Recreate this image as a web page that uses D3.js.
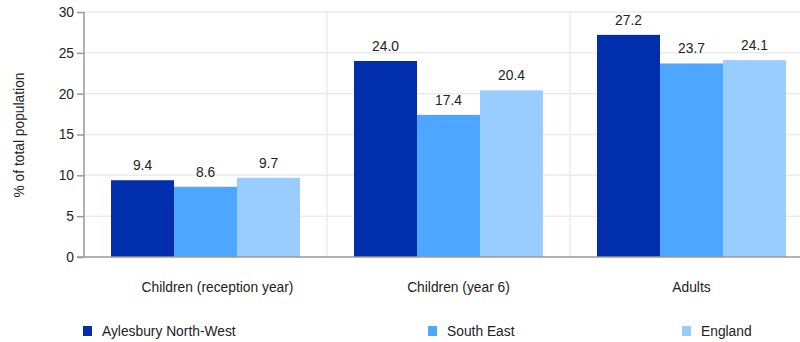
<!DOCTYPE html>
<html><head><meta charset="utf-8">
<script src="https://cdn.jsdelivr.net/npm/d3@7"></script>
<style>body{margin:0;background:#fff;}svg{display:block;font-family:"Liberation Sans",Arial,sans-serif;}</style>
</head><body><svg id="c" width="800" height="342"></svg>
<script>
const categories = ["Children (reception year)", "Children (year 6)", "Adults"];
const seriesNames = ["Aylesbury North-West", "South East", "England"];
const aylesbury = [9.4, 24.0, 27.2];
const southEast = [8.6, 17.4, 23.7];
const england = [9.7, 20.4, 24.1];
const yTicks = [0, 5, 10, 15, 20, 25, 30];
const colors = ["#002EAD", "#4DA6FF", "#99CCFF"];
const series = [aylesbury, southEast, england];

(function () {
const svg = d3.select("#c");
const mLeft = 84, mTop = 12, mBottom = 257, mRight = 813;
const fs = 13.8;
const x = d3.scaleBand().domain(categories).range([mLeft, mRight]).paddingInner(0).paddingOuter(0);
const x1 = d3.scaleBand().domain(seriesNames).range([0, 189]);
const y = d3.scaleLinear().domain([0, 30]).range([mBottom, mTop]);

// grid
svg.append("g").selectAll("line").data(yTicks.slice(1)).join("line")
  .attr("x1", mLeft).attr("x2", 800).attr("y1", d => y(d)).attr("y2", d => y(d))
  .attr("stroke", "#ebebeb").attr("stroke-width", 1.5);
svg.append("g").selectAll("line").data(categories.slice(1)).join("line")
  .attr("x1", d => x(d)).attr("x2", d => x(d)).attr("y1", mTop).attr("y2", mBottom)
  .attr("stroke", "#ebebeb").attr("stroke-width", 1.5);

// bars
categories.forEach((c, i) => {
  const g = svg.append("g").attr("transform", `translate(${x(c) + (x.bandwidth() - 189) / 2},0)`);
  series.forEach((s, j) => {
    g.append("rect").attr("x", x1(seriesNames[j])).attr("width", x1.bandwidth())
      .attr("y", y(s[i])).attr("height", y(0) - y(s[i])).attr("fill", colors[j]);
    g.append("text").attr("x", x1(seriesNames[j]) + x1.bandwidth() / 2).attr("y", y(s[i]) - 10)
      .attr("text-anchor", "middle").attr("font-size", fs).attr("fill", "#222")
      .text(s[i].toFixed(1));
  });
});

// y axis
const ya = svg.append("g").attr("transform", `translate(${mLeft},0)`)
  .call(d3.axisLeft(y).tickValues(yTicks).tickSize(7).tickPadding(3).tickFormat(d3.format("d")));
ya.select(".domain").attr("stroke", "#999").attr("stroke-width", 1.5).attr("d", `M0,${mTop}V${mBottom}`);
ya.selectAll(".tick line").attr("stroke", "#999").attr("stroke-width", 1.5);
ya.selectAll(".tick text").attr("font-size", fs).attr("fill", "#222").attr("font-family", "Liberation Sans, Arial, sans-serif");

// x axis line
svg.append("line").attr("x1", mLeft - 7).attr("x2", 800).attr("y1", mBottom).attr("y2", mBottom)
  .attr("stroke", "#999").attr("stroke-width", 1.5);

// category labels
const labelShift = [12, 10, 0];
svg.append("g").selectAll("text").data(categories).join("text")
  .attr("x", (d, i) => x(d) + x.bandwidth() / 2 + labelShift[i]).attr("y", 292)
  .attr("text-anchor", "middle").attr("font-size", fs).attr("fill", "#222").text(d => d);

// y label
svg.append("text").attr("transform", "translate(24,135) rotate(-90)")
  .attr("text-anchor", "middle").attr("font-size", fs).attr("fill", "#222").text("% of total population");

// legend
const legX = [83, 428, 682];
const lg = svg.append("g").selectAll("g").data(seriesNames).join("g")
  .attr("transform", (d, i) => `translate(${legX[i]},326)`);
lg.append("rect").attr("x", 0).attr("y", 0).attr("width", 9).attr("height", 10).attr("fill", (d, i) => colors[i]);
lg.append("text").attr("x", 19).attr("y", 10).attr("font-size", fs).attr("fill", "#222").text(d => d);
})();
</script></body></html>
